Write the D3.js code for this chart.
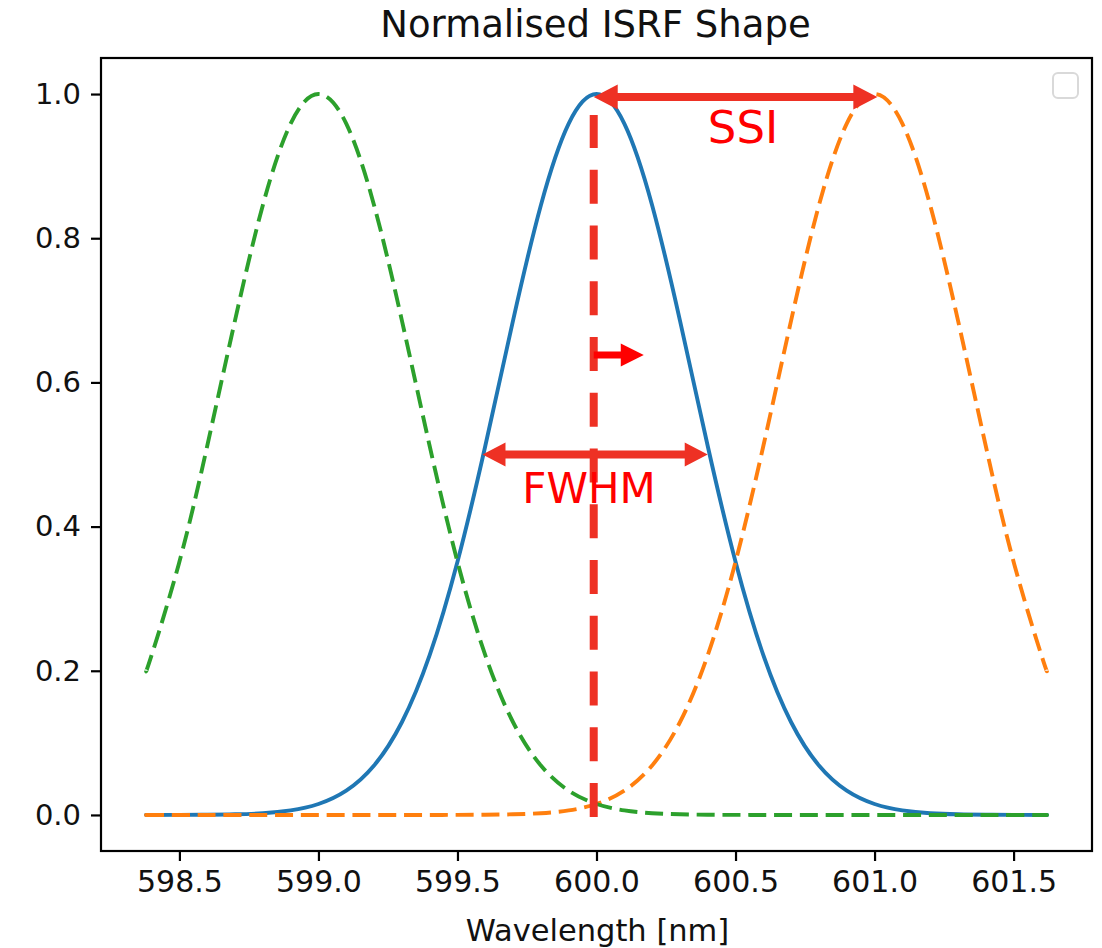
<!DOCTYPE html>
<html>
<head>
<meta charset="utf-8">
<script src="https://cdn.jsdelivr.net/npm/d3@7"></script>
<style>
  html, body { margin: 0; padding: 0; background: #fff; }
  svg { display: block; }
  text { font-family: "DejaVu Sans", sans-serif; }
</style>
</head>
<body>
<svg id="chart" width="1102" height="948"></svg>
<script>
// Wavelength grid [nm]
const wavelength = [598.38, 598.4, 598.5, 598.6, 598.7, 598.8, 598.9, 599.0, 599.1, 599.2,
  599.3, 599.4, 599.5, 599.6, 599.7, 599.8, 599.9, 600.0, 600.1, 600.2, 600.3, 600.4,
  600.5, 600.6, 600.7, 600.8, 600.9, 601.0, 601.1, 601.2, 601.3, 601.4, 601.5, 601.6, 601.62];

// Normalised ISRF, centred on 600 nm (solid)
const isrfCentre = [0, 0, 0.0001, 0.0003, 0.0009, 0.0024, 0.0063, 0.0152, 0.0337, 0.0686,
  0.1286, 0.2216, 0.3512, 0.5118, 0.6861, 0.8458, 0.9590, 1.0, 0.9590, 0.8458, 0.6861,
  0.5118, 0.3512, 0.2216, 0.1286, 0.0686, 0.0337, 0.0152, 0.0063, 0.0024, 0.0009, 0.0003,
  0.0001, 0, 0];

// Neighbouring ISRF, centred on 601 nm (dashed)
const isrfNext = [0, 0, 0, 0, 0, 0, 0, 0, 0, 0, 0, 0, 0.0001, 0.0003, 0.0009, 0.0024,
  0.0063, 0.0152, 0.0337, 0.0686, 0.1286, 0.2216, 0.3512, 0.5118, 0.6861, 0.8458, 0.9590,
  1.0, 0.9590, 0.8458, 0.6861, 0.5118, 0.3512, 0.2216, 0.2001];

// Neighbouring ISRF, centred on 599 nm (dashed)
const isrfPrev = [0.2001, 0.2216, 0.3512, 0.5118, 0.6861, 0.8458, 0.9590, 1.0, 0.9590,
  0.8458, 0.6861, 0.5118, 0.3512, 0.2216, 0.1286, 0.0686, 0.0337, 0.0152, 0.0063, 0.0024,
  0.0009, 0.0003, 0.0001, 0, 0, 0, 0, 0, 0, 0, 0, 0, 0, 0, 0];

// Axis ticks
const xTicks = [598.5, 599.0, 599.5, 600.0, 600.5, 601.0, 601.5];
const yTicks = [0.0, 0.2, 0.4, 0.6, 0.8, 1.0];

// Annotation positions (data units)
const centreLineX = 599.99;
const centreLineSpan = [-0.003, 0.971];
const ssiSpan = [599.99, 601.01];
const ssiLevel = 0.996;
const ssiLabelPos = [600.527, 0.932];
const fwhmSpan = [599.59, 600.40];
const fwhmLevel = 0.5;
const fwhmLabelPos = [599.973, 0.433];
const shiftSpan = [599.99, 600.17];
const shiftLevel = 0.638;

const svg = d3.select("#chart");
const plot = { left: 101, right: 1092, top: 58, bottom: 851 };

// matplotlib-style 5% data margins
const xPad = (wavelength[wavelength.length - 1] - wavelength[0]) * 0.05;
const x = d3.scaleLinear()
  .domain([wavelength[0] - xPad, wavelength[wavelength.length - 1] + xPad])
  .range([plot.left, plot.right]);
const y = d3.scaleLinear()
  .domain([-0.05, 1.05])
  .range([plot.bottom, plot.top]);

// Title
svg.append("text")
  .attr("x", (plot.left + plot.right) / 2 - 1)
  .attr("y", 37)
  .attr("text-anchor", "middle")
  .attr("font-size", 37)
  .attr("fill", "#111")
  .text("Normalised ISRF Shape");

// Axes
const xAxis = d3.axisBottom(x).tickValues(xTicks).tickFormat(d3.format(".1f"))
  .tickSize(10).tickPadding(10);
const yAxis = d3.axisLeft(y).tickValues(yTicks).tickFormat(d3.format(".1f"))
  .tickSize(10).tickPadding(10);

const gx = svg.append("g").attr("transform", `translate(0,${plot.bottom})`).call(xAxis);
const gy = svg.append("g").attr("transform", `translate(${plot.left},0)`).call(yAxis);
[gx, gy].forEach(g => {
  g.select(".domain").remove();
  g.selectAll(".tick line").attr("stroke", "#000").attr("stroke-width", 2.2);
  g.selectAll(".tick text").attr("font-size", 30).attr("fill", "#111")
    .attr("font-family", "'DejaVu Sans', sans-serif");
});
gy.selectAll(".tick text").attr("font-size", 29);

svg.append("text")
  .attr("x", (plot.left + plot.right) / 2 + 1)
  .attr("y", 941)
  .attr("text-anchor", "middle")
  .attr("font-size", 30.5)
  .attr("fill", "#111")
  .text("Wavelength [nm]");

// Curves
const line = d3.line()
  .x((d, i) => x(wavelength[i]))
  .y(d => y(d))
  .curve(d3.curveNatural);

const series = [
  { values: isrfCentre, color: "#1f77b4", dash: null },
  { values: isrfNext, color: "#ff7f0e", dash: "18 7.8" },
  { values: isrfPrev, color: "#2ca02c", dash: "18 7.8" }
];

const curves = svg.append("g");
series.forEach(s => {
  curves.append("path")
    .attr("d", line(s.values))
    .attr("fill", "none")
    .attr("stroke", s.color)
    .attr("stroke-width", 3.9)
    .attr("stroke-linecap", "butt")
    .attr("stroke-linejoin", "round")
    .attr("stroke-dasharray", s.dash);
});

// Axes frame
svg.append("rect")
  .attr("x", plot.left).attr("y", plot.top)
  .attr("width", plot.right - plot.left).attr("height", plot.bottom - plot.top)
  .attr("fill", "none").attr("stroke", "#000").attr("stroke-width", 2.2);

// Empty legend box
svg.append("rect")
  .attr("x", 1053).attr("y", 73).attr("width", 25).attr("height", 25).attr("rx", 5)
  .attr("fill", "#fff").attr("stroke", "#d9d9d9").attr("stroke-width", 2);

// Annotations
const red = "#ee3124";
const notes = svg.append("g");

// Centre line, dashed from the bottom upward
notes.append("line")
  .attr("x1", x(centreLineX)).attr("x2", x(centreLineX))
  .attr("y1", y(centreLineSpan[0])).attr("y2", y(centreLineSpan[1]))
  .attr("stroke", red).attr("stroke-width", 8)
  .attr("stroke-dasharray", "34 21.75");

function arrowPath(x0, x1, yc, t, hl, hh, startHead, endHead) {
  const p = d3.path();
  const a = startHead ? x0 + hl : x0;
  const b = endHead ? x1 - hl : x1;
  p.moveTo(a, yc - t / 2);
  p.lineTo(b, yc - t / 2);
  if (endHead) {
    p.lineTo(b, yc - hh);
    p.lineTo(x1, yc);
    p.lineTo(b, yc + hh);
  }
  p.lineTo(b, yc + t / 2);
  p.lineTo(a, yc + t / 2);
  if (startHead) {
    p.lineTo(a, yc + hh);
    p.lineTo(x0, yc);
    p.lineTo(a, yc - hh);
  }
  p.closePath();
  return p.toString();
}

notes.append("path")
  .attr("d", arrowPath(x(ssiSpan[0]), x(ssiSpan[1]), y(ssiLevel), 8, 24, 12.5, true, true))
  .attr("fill", red);

notes.append("path")
  .attr("d", arrowPath(x(fwhmSpan[0]), x(fwhmSpan[1]), y(fwhmLevel), 8, 23, 12, true, true))
  .attr("fill", red);

notes.append("path")
  .attr("d", arrowPath(x(shiftSpan[0]), x(shiftSpan[1]), y(shiftLevel), 7, 23, 11.5, false, true))
  .attr("fill", "#ff0000");

notes.append("text")
  .attr("x", x(ssiLabelPos[0])).attr("y", y(ssiLabelPos[1]))
  .attr("text-anchor", "middle")
  .attr("font-family", "'Liberation Sans', Arial, sans-serif")
  .attr("font-size", 45)
  .attr("fill", "#ff0000")
  .text("SSI");

notes.append("text")
  .attr("x", x(fwhmLabelPos[0])).attr("y", y(fwhmLabelPos[1]))
  .attr("text-anchor", "middle")
  .attr("font-family", "'Liberation Sans', Arial, sans-serif")
  .attr("font-size", 42)
  .attr("fill", "#ff0000")
  .text("FWHM");
</script>
</body>
</html>
